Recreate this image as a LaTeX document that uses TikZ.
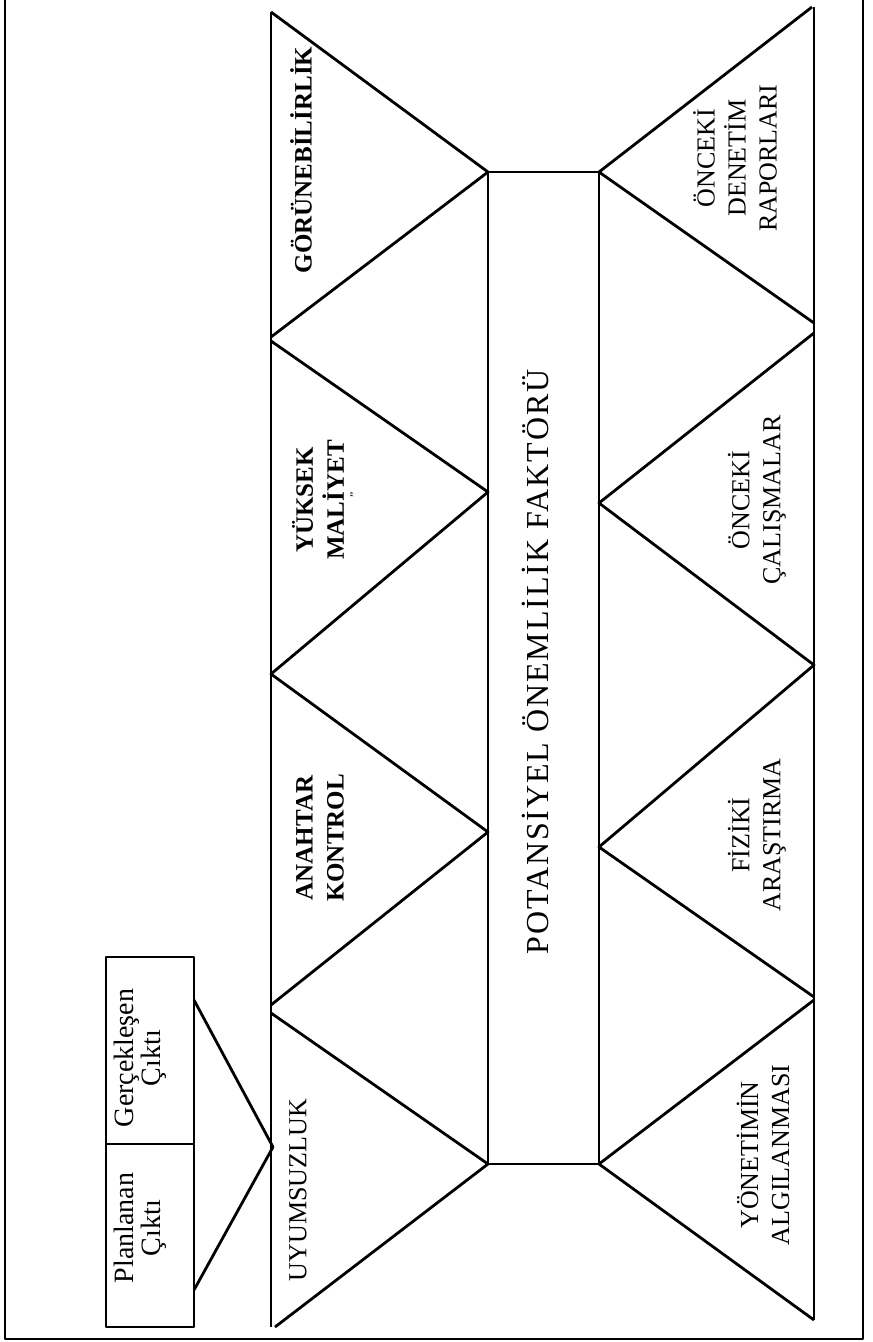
\documentclass[tikz,border=0pt]{standalone}
\usepackage{fontspec}
\setmainfont{Liberation Serif}
\newfontfamily\spacedfont[LetterSpace=6]{Liberation Serif}
\begin{document}
\begin{tikzpicture}[
        x={(1pt,0pt)},
        y={(0pt,-1pt)},
        line join=round,
        edge/.style={line width=2.8pt},
        frame/.style={line width=2.2pt},
        side/.style={rotate=90, align=center, inner sep=0pt, font=\fontsize{26}{31}\selectfont},
        sidebold/.style={side, font=\bfseries\fontsize{25}{31}\selectfont},
        boxtext/.style={rotate=90, align=center, inner sep=0pt, font=\fontsize{28}{27}\selectfont}
    ]
    \useasboundingbox (0,0) rectangle (873,1342);
    % outer frame, open at the top
    \draw[frame] (5,0) -- (5,1339) -- (863,1339) -- (863,0);

    % left baseline and zigzag
    \coordinate (LT) at (271,12);
    \coordinate (LB) at (271,1327);
    \coordinate (L1) at (271,337);
    \coordinate (L1b) at (271,341);
    \coordinate (L2) at (271,674);
    \coordinate (L3) at (271,1005);
    \coordinate (L3b) at (271,1013);
    \coordinate (L4) at (275,1327);
    % central box corners
    \coordinate (CA) at (488,172);
    \coordinate (CB) at (599,172);
    \coordinate (CC) at (599,1164);
    \coordinate (CD) at (488,1164);
    \coordinate (CL1) at (488,492);
    \coordinate (CL2) at (488,832);
    \coordinate (CR1) at (599,503);
    \coordinate (CR2) at (599,847);
    % right baseline and zigzag
    \coordinate (RT) at (814,7);
    \coordinate (RB) at (814,1320);
    \coordinate (R0) at (812,7);
    \coordinate (R1) at (814,323);
    \coordinate (R1b) at (814,333);
    \coordinate (R2) at (814,665);
    \coordinate (R3) at (814,997);
    \coordinate (R3b) at (814,1000);

    \draw[edge] (LT) -- (LB);
    \draw[edge] (RT) -- (RB);
    \draw[edge] (CA) rectangle (CC);
    \draw[edge] (LT) -- (CA) -- (L1);
    \draw[edge] (L1b) -- (CL1) -- (L2) -- (CL2) -- (L3);
    \draw[edge] (L3b) -- (CD) -- (L4);
    \draw[edge] (R0) -- (CB) -- (R1);
    \draw[edge] (R1b) -- (CR1) -- (R2) -- (CR2) -- (R3);
    \draw[edge] (R3b) -- (CC) -- (RB);

    % output boxes and wedge
    \coordinate (GA) at (106,957);
    \coordinate (GM) at (194,1144);
    \coordinate (PA) at (106,1144);
    \coordinate (PB) at (194,1327);
    \coordinate (W1) at (194,1000);
    \coordinate (W2) at (194,1290);
    \coordinate (WA) at (273,1147);
    \draw[frame] (GA) rectangle (GM);
    \draw[frame] (PA) rectangle (PB);
    \draw[edge] (W1) -- (WA) -- (W2);

    % labels
    \node[sidebold] (gorunur) at (301,160) {GÖRÜNEBİLİRLİK};
    \node[sidebold] (maliyet) at (318,500) {YÜKSEK\\MALİYET};
    \node[font=\fontsize{12}{12}\selectfont, rotate=90] (mark) at (352,495) {„};
    \node[sidebold] (anahtar) at (320,838) {ANAHTAR\\KONTROL};
    \node[side] (uyumsuz) at (298,1190) {UYUMSUZLUK};
    \node[side] (rapor) at (735,158) {ÖNCEKİ\\DENETİM\\RAPORLARI};
    \node[side] (calisma) at (757,500) {ÖNCEKİ\\ÇALIŞMALAR};
    \node[side] (fiziki) at (757,835) {FİZİKİ\\ARAŞTIRMA};
    \node[side] (yonetim) at (763,1155) {YÖNETİMİN\\ALGILANMASI};
    \node[rotate=90, inner sep=0pt, font=\spacedfont\fontsize{32}{34}\selectfont] (faktor) at (535,662) {POTANSİYEL ÖNEMLİLİK FAKTÖRÜ};
    \node[boxtext] (plan) at (140,1228) {Planlanan\\Çıktı};
    \node[boxtext] (gercek) at (140,1058) {Gerçekleşen\\Çıktı};
\end{tikzpicture}
\end{document}
